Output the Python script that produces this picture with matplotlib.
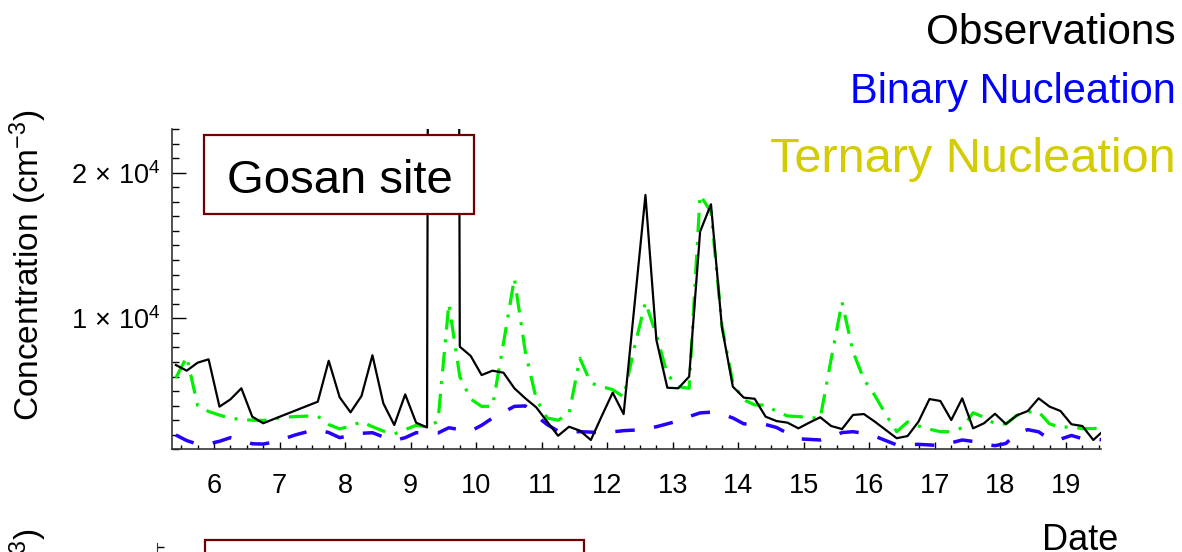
import numpy as np
import matplotlib.pyplot as plt
from matplotlib.ticker import MultipleLocator, FixedLocator
from matplotlib.patches import Rectangle

plt.rcParams['font.family'] = ['Liberation Sans', 'DejaVu Sans']
plt.rcParams['mathtext.fontset'] = 'custom'
plt.rcParams['mathtext.rm'] = 'Liberation Sans'
plt.rcParams['mathtext.it'] = 'Liberation Sans:italic'
plt.rcParams['lines.scale_dashes'] = False

# ---- data (day of month, particles cm-3) ----
obs_time = [5.417, 5.583, 5.75, 5.917,
            6.083, 6.25, 6.417, 6.583, 6.75,
            7.583, 7.75, 7.917,
            8.083, 8.25, 8.417, 8.583, 8.75, 8.917,
            9.083, 9.25, 9.417, 9.583, 9.75, 9.917,
            10.083, 10.25, 10.417, 10.583, 10.75, 10.917,
            11.083, 11.25, 11.417, 11.583, 11.75, 11.917,
            12.083, 12.25, 12.417, 12.583, 12.75, 12.917,
            13.083, 13.25, 13.417, 13.583, 13.75, 13.917,
            14.083, 14.25, 14.417, 14.583, 14.75, 14.917,
            15.083, 15.25, 15.417, 15.583, 15.75, 15.917,
            16.083, 16.25, 16.417, 16.583, 16.75, 16.917,
            17.083, 17.25, 17.417, 17.583, 17.75, 17.917,
            18.083, 18.25, 18.417, 18.583, 18.75, 18.917,
            19.083, 19.25, 19.417, 19.583]
obs_conc = [6790, 6400, 6950, 7180,
            3930, 4430, 5190, 3240, 2790,
            4270, 7080, 4570,
            3540, 4660, 7460, 4160, 2670, 4770,
            2830, 2500, 300000, 300000, 8050, 7410,
            6100, 6400, 6260, 5190, 4500, 3880,
            2900, 1930, 2550, 2280, 1640, 3290,
            4890, 3420, 10950, 18470, 8510, 5230,
            5190, 5990, 15950, 17830, 9380, 5300,
            4550, 4470, 3240, 2940, 2830, 2440,
            2830, 3200, 2600, 2390, 3360, 3420,
            2900, 2330, 1760, 1910, 2900, 4450,
            4320, 3010, 4500, 2440, 2790, 3440,
            2740, 3330, 3630, 4500, 3930, 3630,
            2720, 2600, 1640, 2320]

model_time = [5.417, 5.583, 5.75, 5.917,
              6.083, 6.25, 6.417, 6.583, 6.75, 6.917,
              7.083, 7.25, 7.417, 7.583, 7.75, 7.917,
              8.083, 8.25, 8.417, 8.583, 8.75, 8.917,
              9.083, 9.25, 9.417, 9.583, 9.75, 9.917,
              10.083, 10.25, 10.417, 10.583, 10.75, 10.917,
              11.083, 11.25, 11.417, 11.583, 11.75, 11.917,
              12.083, 12.25, 12.417, 12.583, 12.75, 12.917,
              13.083, 13.25, 13.417, 13.583, 13.75, 13.917,
              14.083, 14.25, 14.417, 14.583, 14.75, 14.917,
              15.083, 15.25, 15.417, 15.583, 15.75, 15.917,
              16.083, 16.25, 16.417, 16.583, 16.75, 16.917,
              17.083, 17.25, 17.417, 17.583, 17.75, 17.917,
              18.083, 18.25, 18.417, 18.583, 18.75, 18.917,
              19.083, 19.25, 19.417, 19.583]
binary_conc = [1980, 1600, 1350, 1380,
               1550, 1800, 1650, 1380, 1360, 1500,
               1750, 2000, 2200, 2330, 2150, 1800,
               1950, 2100, 2140, 1850, 1600, 1800,
               2140, 2140, 2120, 2480, 2350, 2250,
               2650, 3150, 3550, 3950, 3980, 3300,
               2700, 2250, 2200, 2210, 2180, 2140,
               2200, 2280, 2320, 2400, 2550, 2750,
               2950, 3250, 3500, 3550, 3420, 3150,
               2750, 2720, 2700, 2500, 2100, 1720,
               1680, 1640, 1850, 2150, 2210, 2100,
               1900, 1600, 1300, 1320, 1340, 1300,
               1250, 1450, 1640, 1540, 1330, 1250,
               1400, 2100, 2350, 2200, 1680, 1700,
               1950, 1730, 1690, 1650]
ternary_conc = [5900, 7350, 4000, 3600,
                3350, 3130, 3050, 3000, 2980, 3100,
                3200, 3250, 3280, 3270, 2700, 2400,
                2600, 2900, 2550, 2250, 2050, 2350,
                2650, 2530, 2920, 11000, 6000, 4450,
                3950, 3950, 8300, 12740, 7700, 4450,
                3150, 3000, 3450, 7250, 5550, 5300,
                5100, 4600, 8050, 11100, 8850, 6150,
                5300, 5190, 18470, 17300, 9500, 5550,
                4400, 4050, 4040, 3600, 3290, 3250,
                3180, 3130, 7200, 11100, 7700, 5800,
                4700, 3400, 2210, 2880, 2600, 2380,
                2210, 2210, 2480, 3510, 3200, 2750,
                2740, 3330, 3560, 3570, 2750, 2500,
                2550, 2420, 2430, 2460]

day_ticks = list(range(6, 20))
ytick_vals = [10000, 20000]
ytick_labels = [r'$1\,\times\,10^{4}$', r'$2\,\times\,10^{4}$']
legend_names = ['Observations', 'Binary Nucleation', 'Ternary Nucleation']
legend_colors = ['black', '#0000ff', '#d2cc00']

W, H = 1182, 552
fig = plt.figure(figsize=(W / 100, H / 100), dpi=100)


def fx(px):
    return px / W


def fy(py):
    return 1 - py / H


ax = fig.add_axes([fx(172.3), fy(449.3), fx(1100.7) - fx(172.3), fy(129) - fy(449.3)])
ax.plot(model_time, binary_conc, color='#2300ff', lw=2.5, dashes=(14, 14))
ax.plot(model_time, ternary_conc, color='#00f000', lw=2.3, dashes=(14, 7, 2.2, 7))
ax.plot(obs_time, obs_conc, color='black', lw=1.6)

ax.set_xlim(5.363, 19.53)
ax.set_ylim(1000, 23000)
for s in ['top', 'right']:
    ax.spines[s].set_visible(False)
for s in ['left', 'bottom']:
    ax.spines[s].set_linewidth(1.2)
    ax.spines[s].set_color('#333333')

ax.xaxis.set_major_locator(FixedLocator(day_ticks))
ax.xaxis.set_minor_locator(MultipleLocator(0.25))
ax.set_xticklabels([str(d) for d in day_ticks], fontsize=19.5)
ax.yaxis.set_major_locator(FixedLocator(ytick_vals))
ax.yaxis.set_minor_locator(MultipleLocator(1000))
ax.set_yticklabels(ytick_labels, fontsize=19.5)
ax.tick_params(axis='x', which='major', direction='in', length=5, width=1, pad=17)
ax.tick_params(axis='x', which='minor', direction='in', length=3, width=1)
ax.tick_params(axis='y', which='major', direction='in', length=10, width=1, pad=8)
ax.tick_params(axis='y', which='minor', direction='in', length=5, width=1)

fig.text(fx(28), fy(265), 'Concentration (cm$^{-3}$)', rotation=90,
         ha='center', va='center', fontsize=24)

# site label box, drawn over the curves
fig.patches.append(Rectangle((fx(204), fy(214)), fx(474) - fx(204), fy(135) - fy(214),
                             transform=fig.transFigure, facecolor='white',
                             edgecolor='#6e0000', lw=1.6, zorder=5))
fig.text(fx(340), fy(193), 'Gosan site', ha='center', va='baseline', fontsize=34, zorder=6)

# legend text, right aligned
for name, col, base, size in zip(legend_names, legend_colors, [44, 103, 172], [30.5, 30, 35]):
    fig.text(fx(1176), fy(base), name, color=col, ha='right', va='baseline', fontsize=size)

# top of the lower panel (cut off by the figure edge)
fig.patches.append(Rectangle((fx(205), fy(620)), fx(584) - fx(205), fy(540) - fy(620),
                             transform=fig.transFigure, facecolor='white',
                             edgecolor='#6e0000', lw=1.6, zorder=5))
ax2 = fig.add_axes([fx(157), fy(870), 0.7, fy(543) - fy(870)])
ax2.set_ylim(1000, 23000)
ax2.set_xlim(0, 1)
for s in ['top', 'right', 'bottom']:
    ax2.spines[s].set_visible(False)
ax2.spines['left'].set_color('#333333')
ax2.set_xticks([])
ax2.yaxis.set_major_locator(FixedLocator([22700]))
ax2.set_yticklabels([''])
ax2.tick_params(axis='y', direction='in', length=5, width=1)
ax2.patch.set_visible(False)
fig.text(fx(28), fy(528), 'Concentration (cm$^{-3}$)', rotation=90,
         ha='center', va='top', fontsize=24)
fig.text(fx(1080), fy(550), 'Date', ha='center', va='baseline', fontsize=26)

fig.savefig('out.png', dpi=100)
